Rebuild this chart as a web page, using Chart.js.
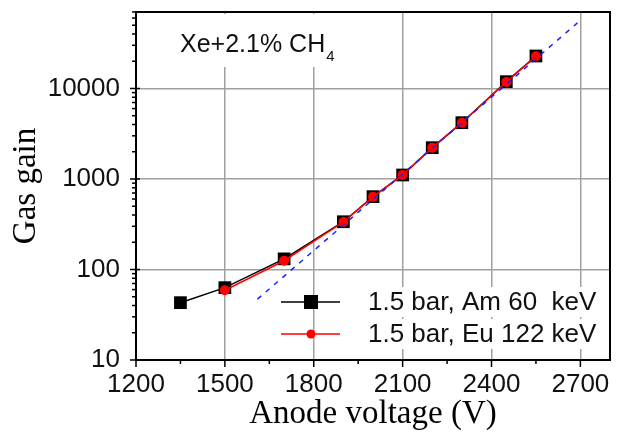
<!DOCTYPE html>
<html>
<head>
<meta charset="utf-8">
<script src="https://cdn.jsdelivr.net/npm/chart.js@4"></script>
<style>
  html, body { margin: 0; padding: 0; background: #fff; }
  #wrap { width: 619px; height: 432px; }
</style>
</head>
<body>
<div id="wrap"><canvas id="gainChart" width="619" height="432"></canvas></div>
<script>
// values
var voltsAm = [1350, 1500, 1700, 1900, 2000, 2100, 2200, 2300, 2450, 2550];
var gainAm  = [43, 63, 131, 337, 638, 1107, 2218, 4190, 11890, 22860];
var voltsEu = [1500, 1700, 1900, 2000, 2100, 2200, 2300, 2450, 2550];
var gainEu  = [59, 125, 335, 635, 1110, 2220, 4180, 11800, 22700];
var fitVolts = [1610, 2690];
var fitGain  = [47, 53000];

var xTicks = [1200, 1500, 1800, 2100, 2400, 2700];
var xMinorTicks = [1350, 1650, 1950, 2250, 2550];
var yTicks = [10, 100, 1000, 10000];

var sans = "'Liberation Sans', Arial, sans-serif";
var serif = "'Liberation Serif', 'Times New Roman', serif";
var gridColor = 'rgb(160,160,160)';
var frameBorder = { display: true, color: '#000', width: 2 };

function toPoints(xs, ys) {
    return xs.map(function (v, i) { return { x: v, y: ys[i] }; });
}

// ticks, note and legend
var decorations = {
    id: 'decorations',
    afterDraw: function (chart) {
        var c = chart.ctx;
        var xs = chart.scales.x;
        var ys = chart.scales.y;
        var L = Math.round(xs.getPixelForValue(xs.min));
        var B = Math.round(ys.getPixelForValue(ys.min));
        var T = Math.round(ys.getPixelForValue(ys.max));
        c.save();
        c.setLineDash([]);

        // note box (hides grid behind it)
        c.fillStyle = '#fff';
        c.fillRect(L + 2, T + 2, 200, 53);
        c.fillStyle = '#111';
        c.font = '25px ' + sans;
        c.textBaseline = 'alphabetic';
        c.textAlign = 'left';
        c.fillText('Xe+2.1% CH', 180, 52);
        var w = c.measureText('Xe+2.1% CH').width;
        c.font = '15px ' + sans;
        c.fillText('4', 180 + w + 1, 61);

        // legend
        var rows = [
            { ds: chart.data.datasets[0], y: 302 },
            { ds: chart.data.datasets[1], y: 334 }
        ];
        c.font = '26px ' + sans;
        rows.forEach(function (r) {
            c.fillStyle = '#fff';
            c.fillRect(362, r.y - 15, 246, 30);
            c.fillStyle = r.ds.borderColor;
            c.fillRect(281, r.y - 0.75, 59, 1.5);
            c.fillStyle = r.ds.backgroundColor;
            if (r.ds.pointStyle === 'rect') {
                c.fillRect(311 - 7, r.y - 7, 14, 14);
            } else {
                c.beginPath();
                c.arc(311, r.y, 4.5, 0, Math.PI * 2);
                c.fill();
            }
            c.fillStyle = '#111';
            c.textBaseline = 'middle';
            c.fillText(r.ds.label, 368, r.y + 1);
        });

        // outer ticks
        c.fillStyle = '#000';
        xTicks.forEach(function (v) {
            var px = xs.getPixelForValue(v);
            c.fillRect(px - 0.75, B, 1.5, 7);
        });
        xMinorTicks.forEach(function (v) {
            var px = xs.getPixelForValue(v);
            c.fillRect(px - 0.75, B, 1.5, 4);
        });
        yTicks.forEach(function (v) {
            var py = ys.getPixelForValue(v);
            c.fillRect(L - 6, py - 0.75, 10, 1.5);
        });
        for (var d = 10; d <= 10000; d *= 10) {
            for (var k = 2; k <= 9; k++) {
                var val = k * d;
                if (val > ys.max) break;
                var py = ys.getPixelForValue(val);
                c.fillRect(L - 4, py - 0.75, 4, 1.5);
            }
        }
        c.restore();
    }
};

function noPad(s) {
    s.paddingTop = 0;
    s.paddingBottom = 0;
    s.paddingLeft = 0;
    s.paddingRight = 0;
}

var ctx = document.getElementById('gainChart').getContext('2d');

var gainChart = new Chart(ctx, {
    type: 'line',
    data: {
        datasets: [{
            label: '1.5 bar, Am 60  keV',
            data: toPoints(voltsAm, gainAm),
            xAxisID: 'x',
            yAxisID: 'y',
            borderColor: '#000',
            backgroundColor: '#000',
            borderWidth: 1.5,
            pointStyle: 'rect',
            pointRadius: 9,
            pointBorderWidth: 0,
            order: 2
        }, {
            label: '1.5 bar, Eu 122 keV',
            data: toPoints(voltsEu, gainEu),
            xAxisID: 'x',
            yAxisID: 'y',
            borderColor: 'rgb(255,0,0)',
            backgroundColor: 'rgb(255,0,0)',
            borderWidth: 1.5,
            pointStyle: 'circle',
            pointRadius: 5,
            pointBorderWidth: 0,
            order: 1
        }, {
            label: 'fit',
            data: toPoints(fitVolts, fitGain),
            xAxisID: 'x',
            yAxisID: 'y',
            borderColor: 'rgb(30,30,255)',
            borderWidth: 1.5,
            borderDash: [5, 6],
            pointRadius: 0,
            order: 0
        }]
    },
    options: {
        responsive: false,
        animation: false,
        events: [],
        layout: { padding: { top: 12, right: 5, left: 0, bottom: 0 } },
        plugins: {
            legend: { display: false },
            tooltip: { enabled: false }
        },
        scales: {
            x: {
                type: 'linear',
                position: 'bottom',
                min: 1200,
                max: 2800,
                afterBuildTicks: function (s) {
                    s.ticks = xTicks.map(function (v) { return { value: v }; });
                },
                afterFit: function (s) { s.height = 72; noPad(s); },
                ticks: {
                    font: { family: sans, size: 26 },
                    color: '#111',
                    padding: 9,
                    maxRotation: 0,
                    autoSkip: false,
                    callback: function (v) { return String(v); }
                },
                grid: { color: gridColor, lineWidth: 1.5, drawTicks: false },
                border: frameBorder,
                title: {
                    display: true,
                    text: 'Anode voltage (V)',
                    font: { family: serif, size: 33, lineHeight: 1.1 },
                    color: '#000',
                    padding: { top: 0, bottom: 0 }
                }
            },
            y: {
                type: 'logarithmic',
                position: 'left',
                min: 10,
                max: 70000,
                afterBuildTicks: function (s) {
                    s.ticks = yTicks.map(function (v) { return { value: v }; });
                },
                afterFit: function (s) { s.width = 136; noPad(s); },
                ticks: {
                    font: { family: sans, size: 26 },
                    color: '#111',
                    padding: 16,
                    autoSkip: false,
                    callback: function (v) { return String(v); }
                },
                grid: { color: gridColor, lineWidth: 1.5, drawTicks: false },
                border: frameBorder,
                title: {
                    display: true,
                    text: 'Gas gain',
                    font: { family: serif, size: 33 },
                    color: '#000',
                    padding: { top: 7, bottom: 0 }
                }
            },
            // top and right edges of the frame
            xTop: {
                type: 'linear',
                position: 'top',
                min: 1200,
                max: 2800,
                afterFit: function (s) { s.height = 0; noPad(s); },
                ticks: { display: false },
                grid: { display: false, drawTicks: false },
                border: frameBorder
            },
            yRight: {
                type: 'logarithmic',
                position: 'right',
                min: 10,
                max: 70000,
                afterFit: function (s) { s.width = 0; noPad(s); },
                ticks: { display: false },
                grid: { display: false, drawTicks: false },
                border: frameBorder
            }
        }
    },
    plugins: [decorations]
});
</script>
</body>
</html>
